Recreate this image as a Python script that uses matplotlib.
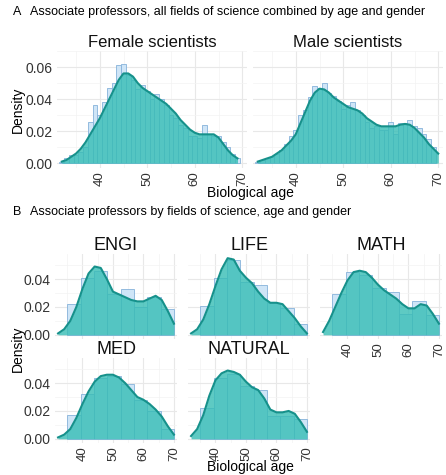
import matplotlib.pyplot as plt
import numpy as np

plt.rcParams['font.family'] = ['Liberation Sans', 'DejaVu Sans']

# ---- panel A data: 1-year histogram bins + density curve ----
ages_a = list(range(32, 70))
female_hist = [0.001, 0.003, 0.005, 0.005, 0.007, 0.010, 0.026, 0.036, 0.030, 0.038,
               0.047, 0.050, 0.061, 0.062, 0.055, 0.052, 0.046, 0.049, 0.045, 0.040,
               0.043, 0.040, 0.036, 0.030, 0.028, 0.024, 0.022, 0.017, 0.017, 0.016,
               0.024, 0.018, 0.017, 0.017, 0.013, 0.010, 0.006, 0.003]
male_hist = [0.001, 0.002, 0.003, 0.004, 0.006, 0.008, 0.012, 0.017, 0.021, 0.030,
             0.033, 0.041, 0.048, 0.047, 0.050, 0.044, 0.042, 0.039, 0.034, 0.036,
             0.038, 0.033, 0.030, 0.026, 0.022, 0.023, 0.021, 0.021, 0.026, 0.018,
             0.025, 0.025, 0.027, 0.023, 0.022, 0.018, 0.015, 0.010]

female_dens_x = list(range(32, 70))
female_dens = [0.001, 0.002, 0.004, 0.006, 0.009, 0.013, 0.018, 0.023, 0.028, 0.034,
               0.040, 0.046, 0.052, 0.056, 0.056, 0.054, 0.050, 0.047, 0.045, 0.043,
               0.041, 0.039, 0.037, 0.034, 0.031, 0.027, 0.024, 0.021, 0.019, 0.018,
               0.018, 0.018, 0.018, 0.016, 0.012, 0.008, 0.005, 0.003]
male_dens_x = list(range(32, 71))
male_dens = [0.001, 0.002, 0.003, 0.004, 0.006, 0.008, 0.011, 0.014, 0.018, 0.025,
             0.032, 0.039, 0.044, 0.0465, 0.046, 0.044, 0.041, 0.039, 0.037, 0.035,
             0.034, 0.033, 0.031, 0.028, 0.026, 0.024, 0.023, 0.023, 0.023, 0.023,
             0.024, 0.0245, 0.024, 0.022, 0.019, 0.016, 0.012, 0.009, 0.006]

# ---- panel B data: 8 bins from 35 to 70 + density curve every 2 years ----
fields = ['ENGI', 'LIFE', 'MATH', 'MED', 'NATURAL']
dens_x_b = list(range(32, 71, 2))
hist_b = {
    'ENGI':    [0.022, 0.041, 0.046, 0.0295, 0.033, 0.020, 0.0275, 0.0185],
    'LIFE':    [0.021, 0.041, 0.054, 0.038, 0.0355, 0.023, 0.019, 0.008],
    'MATH':    [0.0295, 0.045, 0.043, 0.0335, 0.031, 0.015, 0.024, 0.014],
    'MED':     [0.017, 0.032, 0.044, 0.045, 0.039, 0.028, 0.020, 0.007],
    'NATURAL': [0.022, 0.044, 0.0465, 0.038, 0.035, 0.0165, 0.0165, 0.0145],
}
dens_b = {
    'ENGI':    [0.001, 0.004, 0.010, 0.020, 0.033, 0.044, 0.049, 0.048, 0.040, 0.031,
                0.029, 0.027, 0.025, 0.024, 0.024, 0.026, 0.028, 0.025, 0.017, 0.008],
    'LIFE':    [0.001, 0.004, 0.011, 0.022, 0.035, 0.047, 0.055, 0.054, 0.046, 0.041,
                0.037, 0.031, 0.026, 0.023, 0.023, 0.022, 0.017, 0.012, 0.006, 0.001],
    'MATH':    [0.002, 0.010, 0.020, 0.030, 0.039, 0.045, 0.046, 0.045, 0.041, 0.036,
                0.032, 0.029, 0.026, 0.022, 0.019, 0.019, 0.022, 0.021, 0.015, 0.008],
    'MED':     [0.001, 0.003, 0.007, 0.015, 0.025, 0.034, 0.041, 0.045, 0.046, 0.046,
                0.044, 0.040, 0.035, 0.030, 0.028, 0.025, 0.021, 0.016, 0.009, 0.003],
    'NATURAL': [0.002, 0.007, 0.017, 0.031, 0.042, 0.047, 0.049, 0.048, 0.046, 0.041,
                0.037, 0.035, 0.029, 0.021, 0.019, 0.019, 0.020, 0.018, 0.012, 0.005],
}

W, H = 446, 475
HIST_FC = '#cfe5f7'
HIST_EC = '#86b2da'
TEAL = '#36bdb5'
LINE = '#16918b'
TXT = '#333333'

fig = plt.figure(figsize=(W / 100, H / 100), dpi=100)


def add_ax(left, top, width, height):
    return fig.add_axes([left / W, 1 - (top + height) / H, width / W, height / H])


def draw_panel(ax, edges, hist, dx, dy, ylim, yticks, title, show_x, show_y, tsize):
    edges = np.asarray(edges)
    ax.bar(edges[:-1], hist, width=np.diff(edges), align='edge',
           color=HIST_FC, edgecolor=HIST_EC, linewidth=0.6, zorder=2)
    ax.fill_between(dx, dy, color=TEAL, alpha=0.8, linewidth=0, zorder=3)
    ax.plot(dx, dy, color=LINE, lw=1.5, zorder=4)
    ax.set_xlim(31, 71)
    ax.set_ylim(*ylim)
    ax.set_xticks([40, 50, 60, 70])
    ax.set_xticks([35, 45, 55, 65], minor=True)
    ax.set_yticks(yticks)
    ax.set_yticks([t + 0.01 for t in yticks], minor=True)
    ax.set_yticklabels([f'{t:.2f}' for t in yticks])
    ax.grid(which='major', color='#e8e8e8', lw=0.8, zorder=0)
    ax.grid(which='minor', color='#f3f3f3', lw=0.5, zorder=0)
    ax.set_axisbelow(True)
    for s in ax.spines.values():
        s.set_visible(False)
    ax.tick_params(axis='y', which='both', length=0, labelsize=10, colors=TXT, pad=3,
                   labelleft=show_y)
    ax.tick_params(axis='x', which='both', length=0, labelsize=9.5, colors=TXT, pad=2,
                   labelbottom=show_x)
    for lab in ax.get_xticklabels():
        lab.set_rotation(90)
    ax.set_title(title, fontsize=tsize, pad=3, color='#111111')


# ---- panel A ----
edges_a = np.arange(31.5, 70.5, 1.0)
ax_f = add_ax(57, 51, 190, 117)
draw_panel(ax_f, edges_a, female_hist, female_dens_x, female_dens,
           (-0.003, 0.065), [0, 0.02, 0.04, 0.06], 'Female scientists', True, True, 12)
ax_m = add_ax(253, 51, 190, 117)
draw_panel(ax_m, edges_a, male_hist, male_dens_x, male_dens,
           (-0.003, 0.065), [0, 0.02, 0.04, 0.06], 'Male scientists', True, False, 12)

fig.text(13 / W, 1 - 12 / H, 'A', fontsize=9, va='center', ha='left')
fig.text(30 / W, 1 - 12 / H, 'Associate professors, all fields of science combined by age and gender',
         fontsize=9, va='center', ha='left')
fig.text(18 / W, 1 - 110 / H, 'Density', rotation=90, fontsize=10, va='center', ha='center')
fig.text(250 / W, 1 - 193 / H, 'Biological age', fontsize=10, va='center', ha='center')

# ---- panel B ----
edges_b = np.linspace(35, 70, 9)
cols = [55, 188, 320]
rows = [254, 358]
for i, f in enumerate(fields):
    r, c = divmod(i, 3)
    ax = add_ax(cols[c], rows[r], 122, 85)
    show_x = (r == 1) or (c == 2)
    draw_panel(ax, edges_b, hist_b[f], dens_x_b, dens_b[f],
               (-0.003, 0.058), [0, 0.02, 0.04], f, show_x, c == 0, 13)

fig.text(13 / W, 1 - 212 / H, 'B', fontsize=9, va='center', ha='left')
fig.text(30 / W, 1 - 212 / H, 'Associate professors by fields of science, age and gender',
         fontsize=9, va='center', ha='left')
fig.text(18 / W, 1 - 349 / H, 'Density', rotation=90, fontsize=10, va='center', ha='center')
fig.text(250 / W, 1 - 467 / H, 'Biological age', fontsize=10, va='center', ha='center')

fig.savefig('out.png', dpi=100)
